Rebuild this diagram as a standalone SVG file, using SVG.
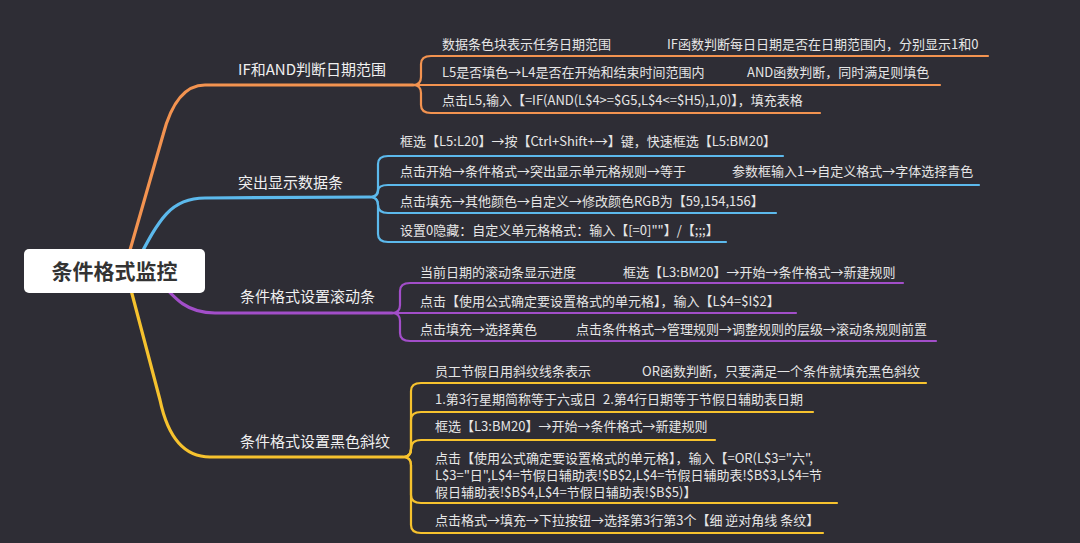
<svg xmlns="http://www.w3.org/2000/svg" width="1080" height="543" viewBox="0 0 1080 543">
<style>
.bg{fill:#2e2d35}
.ln{fill:none;stroke-linecap:round;stroke-linejoin:round}
.main{stroke-width:3.2}
.sub{stroke-width:2.2}
.or{stroke:#f39350}
.bl{stroke:#5cb9ec}
.pu{stroke:#a24ec9}
.ye{stroke:#f6c22e}
.t{font-family:"Noto Sans CJK SC","Noto Sans",sans-serif;fill:#e6e6e6;font-size:13px}
.lab{font-family:"Noto Sans CJK SC","Noto Sans",sans-serif;fill:#f0f0f0;font-size:15px}
.root{font-family:"Noto Sans CJK SC","Noto Sans",sans-serif;fill:#333;font-size:21px;font-weight:bold}
</style>
<rect class="bg" x="0" y="0" width="1080" height="543"/>
<g id="connectors">
  <path class="ln main or" d="M124,271 L163,135 Q176,85 205,85 L413,85"/>
  <path class="ln main bl" d="M132,271 C158,222 168,198 205,198 L370,197"/>
  <path class="ln main pu" d="M150,271 C176,300 186,313 215,313 L392,313"/>
  <path class="ln main ye" d="M126,271 L160,400 Q172,457 210,457 L403,457"/>

  <path class="ln sub or" d="M413,85 Q421,85 421,77 L421,64 Q421,56 431,56 L988,56"/>
  <path class="ln sub or" d="M413,85 L940,85"/>
  <path class="ln sub or" d="M413,85 Q421,85 421,93 L421,105 Q421,113 431,113 L820,113"/>

  <path class="ln sub bl" d="M370,197 Q378,197 378,189 L378,164 Q378,156 388,156 L783,156"/>
  <path class="ln sub bl" d="M370,197 Q378,197 378,191 Q378,185 388,185 L979,185"/>
  <path class="ln sub bl" d="M370,197 Q378,197 378,205 Q378,213 388,213 L776,213"/>
  <path class="ln sub bl" d="M370,197 Q378,197 378,205 L378,234 Q378,242 388,242 L726,242"/>

  <path class="ln sub pu" d="M392,313 Q400,313 400,305 L400,291 Q400,283 410,283 L903,283"/>
  <path class="ln sub pu" d="M392,313 L796,313"/>
  <path class="ln sub pu" d="M392,313 Q400,313 400,321 L400,333 Q400,341 410,341 L936,341"/>

  <path class="ln sub ye" d="M403,457 Q411,457 411,449 L411,391 Q411,383 421,383 L926,383"/>
  <path class="ln sub ye" d="M403,457 Q411,457 411,449 L411,420 Q411,412 421,412 L813,412"/>
  <path class="ln sub ye" d="M403,457 Q411,457 411,449 Q411,440 421,440 L715,440"/>
  <path class="ln sub ye" d="M403,457 Q411,457 411,465 L411,495 Q411,503 421,503 L837,503"/>
  <path class="ln sub ye" d="M403,457 Q411,457 411,465 L411,525 Q411,533 421,533 L823,533"/>
</g>
<g id="root">
  <rect x="24" y="249" width="181" height="44" rx="5" fill="#ffffff"/>
  <text class="root" x="114.5" y="278.5" text-anchor="middle">条件格式监控</text>
</g>
<g id="b1">
  <text class="lab" x="238" y="75">IF和AND判断日期范围</text>
</g>
<g id="b1c1"><text class="t" y="48.5"><tspan x="442">数据条色块表示任务日期范围</tspan><tspan x="667">IF函数判断每日日期是否在日期范围内，分别显示1和0</tspan></text></g>
<g id="b1c2"><text class="t" y="77"><tspan x="442">L5是否填色→L4是否在开始和结束时间范围内</tspan><tspan x="747">AND函数判断，同时满足则填色</tspan></text></g>
<g id="b1c3"><text class="t" x="442" y="105">点击L5,输入【=IF(AND(L$4&gt;=$G5,L$4&lt;=$H5),1,0)】，填充表格</text></g>

<g id="b2">
  <text class="lab" x="238" y="187.5">突出显示数据条</text>
</g>
<g id="b2c1"><text class="t" x="400" y="146">框选【L5:L20】→按【Ctrl+Shift+→】键，快速框选【L5:BM20】</text></g>
<g id="b2c2"><text class="t" y="176"><tspan x="400">点击开始→条件格式→突出显示单元格规则→等于</tspan><tspan x="732">参数框输入1→自定义格式→字体选择青色</tspan></text></g>
<g id="b2c3"><text class="t" x="400" y="205.5">点击填充→其他颜色→自定义→修改颜色RGB为【59,154,156】</text></g>
<g id="b2c4"><text class="t" x="400" y="235">设置0隐藏：自定义单元格格式：输入【[=0]""】/【;;;】</text></g>

<g id="b3">
  <text class="lab" x="240" y="301.5">条件格式设置滚动条</text>
</g>
<g id="b3c1"><text class="t" y="277"><tspan x="420">当前日期的滚动条显示进度</tspan><tspan x="623">框选【L3:BM20】→开始→条件格式→新建规则</tspan></text></g>
<g id="b3c2"><text class="t" x="420" y="306">点击【使用公式确定要设置格式的单元格】，输入【L$4=$I$2】</text></g>
<g id="b3c3"><text class="t" y="333.5"><tspan x="420">点击填充→选择黄色</tspan><tspan x="576">点击条件格式→管理规则→调整规则的层级→滚动条规则前置</tspan></text></g>

<g id="b4">
  <text class="lab" x="240" y="447">条件格式设置黑色斜纹</text>
</g>
<g id="b4c1"><text class="t" y="376"><tspan x="435">员工节假日用斜纹线条表示</tspan><tspan x="642">OR函数判断，只要满足一个条件就填充黑色斜纹</tspan></text></g>
<g id="b4c2"><text class="t" y="403.5"><tspan x="435">1.第3行星期简称等于六或日</tspan><tspan x="603">2.第4行日期等于节假日辅助表日期</tspan></text></g>
<g id="b4c3"><text class="t" x="435" y="431">框选【L3:BM20】→开始→条件格式→新建规则</text></g>
<g id="b4c4"><text class="t">
  <tspan x="435" y="462.5">点击【使用公式确定要设置格式的单元格】，输入【=OR(L$3="六",</tspan>
  <tspan x="435" y="479.5">L$3="日",L$4=节假日辅助表!$B$2,L$4=节假日辅助表!$B$3,L$4=节</tspan>
  <tspan x="435" y="496.5">假日辅助表!$B$4,L$4=节假日辅助表!$B$5)】</tspan></text></g>
<g id="b4c5"><text class="t" x="435" y="524.5">点击格式→填充→下拉按钮→选择第3行第3个【细 逆对角线 条纹】</text></g>
</svg>
